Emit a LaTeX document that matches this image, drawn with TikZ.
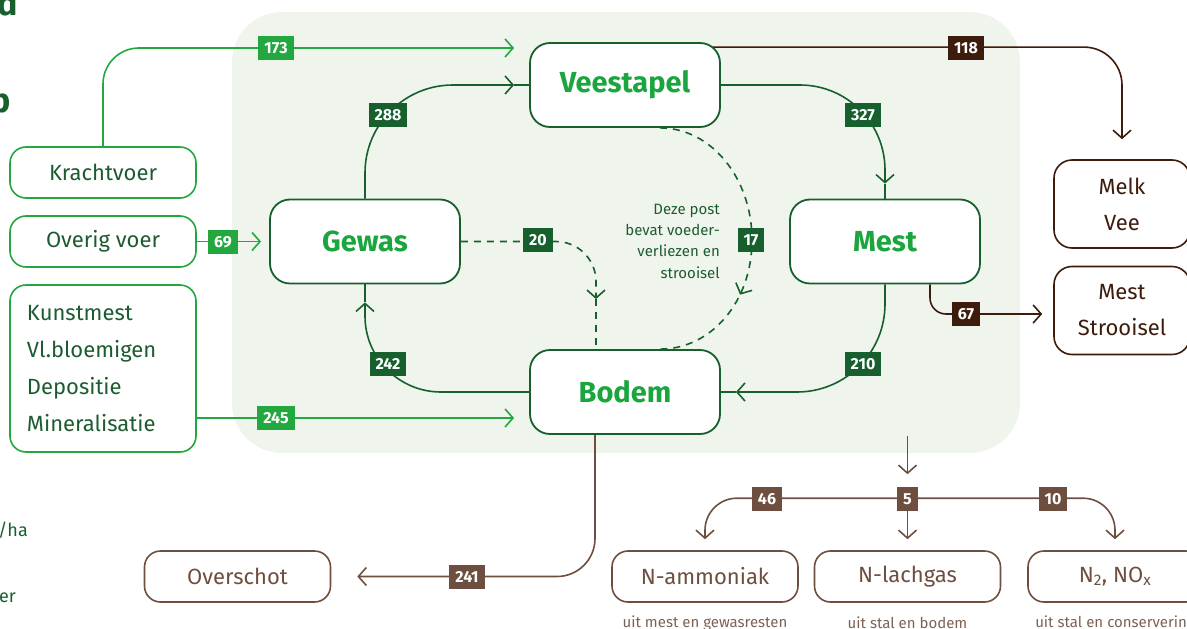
\documentclass[tikz,border=0pt]{standalone}
\usepackage{fontspec}
\setmainfont{Fira Sans}
\usetikzlibrary{arrows.meta,calc,decorations.markings}
\definecolor{bgcol}{HTML}{EFF5EC}
\definecolor{ltgreen}{HTML}{22A83F}
\definecolor{dkgreen}{HTML}{17602E}
\definecolor{brgreen}{HTML}{1BA53E}
\definecolor{txgreen}{HTML}{1D5C31}
\definecolor{dkbrown}{HTML}{3E1C0C}
\definecolor{mdbrown}{HTML}{6E4F3F}
\definecolor{capbrown}{HTML}{7D6154}
\pgfdeclarelayer{back}
\pgfdeclarelayer{lines}
\pgfsetlayers{back,lines,main}
\begin{document}
\begin{tikzpicture}[x=1pt,y=-1pt,
  lnk/.style={line width=1.6pt,-{Straight Barb[length=8pt,width=18pt]}},
  plain/.style={line width=1.6pt},
  dsh/.style={dash pattern=on 7pt off 6pt},
  mainbox/.style={draw=dkgreen,line width=1.8pt,fill=white,rounded corners=20pt,
    minimum width=190pt,minimum height=84pt,text=brgreen,
    font=\fontsize{29}{34}\selectfont\bfseries},
  inbox/.style={draw=ltgreen,line width=1.6pt,fill=white,rounded corners=16pt,
    minimum width=186pt,minimum height=51pt,text=txgreen,
    font=\fontsize{22}{26}\selectfont},
  outbox/.style={draw=dkbrown,line width=1.6pt,fill=white,rounded corners=18pt,
    minimum width=136pt,minimum height=88pt,text=dkbrown,align=center,
    font=\fontsize{22}{36}\selectfont},
  lossbox/.style={draw=mdbrown,line width=1.6pt,fill=white,rounded corners=16pt,
    minimum width=186pt,minimum height=51pt,text=mdbrown,
    font=\fontsize{22}{26}\selectfont},
  capt/.style={text=capbrown,font=\fontsize{15}{15}\selectfont,inner sep=0pt},
  frag/.style={text=dkgreen,inner sep=0pt,anchor=base east},
  badge/.style={fill=#1,text=white,font=\fontsize{16}{16}\selectfont\bfseries,
    inner xsep=6pt,inner ysep=0pt,minimum height=24pt}
]
\useasboundingbox (0,0) rectangle (1187,629);
\begin{pgfonlayer}{back}
\fill[bgcol,rounded corners=50pt] (232,12) rectangle (1020,453);
\end{pgfonlayer}

% fragments of cropped text
\node[frag,font=\fontsize{34}{34}\selectfont\bfseries] (fr1) at (18,16) {d};
\node[frag,font=\fontsize{34}{34}\selectfont\bfseries] (fr2) at (11,112) {p};
\node[frag,font=\fontsize{18}{18}\selectfont] (fr3) at (28,536) {/ha};
\node[frag,font=\fontsize{18}{18}\selectfont] (fr4) at (16,602) {ter};

% main nodes
\node[mainbox] (vee) at (625,85) {Veestapel};
\node[mainbox] (gewas) at (365,241.5) {Gewas};
\node[mainbox] (mest) at (885,241.5) {Mest};
\node[mainbox] (bodem) at (625,392) {Bodem};

% inputs
\node[inbox] (kracht) at (103,172.5) {Krachtvoer};
\node[inbox] (overig) at (103,241.5) {Overig voer};
\node[inbox,minimum height=167pt,text width=152pt,align=left,
  font=\fontsize{22}{37}\selectfont] (kunst) at (103,368.5)
  {Kunstmest\\Vl.bloemigen\\Depositie\\Mineralisatie};

% outputs
\node[outbox] (melk) at (1122,204) {Melk\\Vee};
\node[outbox] (strooi) at (1122,310.5) {Mest\\Strooisel};
\node[lossbox] (oversch) at (237.5,576.5) {Overschot};
\node[lossbox] (amm) at (705,576.5) {N-ammoniak};
\node[lossbox] (lach) at (907.5,576.5) {N-lachgas};
\node[lossbox,minimum width=174pt] (nox) at (1115,576.5) {N\textsubscript{2}, NO\textsubscript{x}};
\node[capt] (cap1) at (705,623) {uit mest en gewasresten};
\node[capt] (cap2) at (907.5,623) {uit stal en bodem};
\node[capt] (cap3) at (1115,623) {uit stal en conservering};

% note
\node[anchor=east,align=right,text=txgreen,font=\fontsize{15}{21.3}\selectfont,
  inner sep=0pt] (note) at (720,241) {Deze post\\bevat voeder-\\verliezen en\\strooisel};

% coordinates
\coordinate (t173) at ($(vee.west)+(-15,-37)$);
\coordinate (t288) at ($(vee.west)+(-15,0)$);
\coordinate (t327) at ($(mest.north)+(0,-15)$);
\coordinate (t210) at ($(bodem.east)+(15,0)$);
\coordinate (t242) at ($(gewas.south)+(0,18)$);
\coordinate (t20) at ($(bodem.north)+(-29,-50)$);
\coordinate (e20) at ($(bodem.north)+(-29,0)$);
\coordinate (lossA) at ($(lach.north)+(0,-114)$);
\coordinate (lossB) at ($(lach.north)+(0,-76)$);
\coordinate (split) at ($(lach.north)+(0,-52)$);

\begin{pgfonlayer}{lines}
% inputs
\draw[ltgreen,lnk,rounded corners=36pt] (kracht.north) |- (t173);
\draw[ltgreen,lnk] (overig.east) -- ($(gewas.west)+(-8,0)$);
\draw[ltgreen,lnk] ($(kunst.east)+(0,49.5)$) -- ($(bodem.west)+(-15,26)$);
% cycle
\draw[dkgreen,lnk,rounded corners=88pt] (gewas.north) |- (t288);
\draw[dkgreen,plain] (t288) -- (vee.west);
\draw[dkgreen,lnk,rounded corners=85pt] (vee.east) -| (t327);
\draw[dkgreen,plain] (t327) -- (mest.north);
\draw[dkgreen,lnk,rounded corners=88pt] (mest.south) |- (t210);
\draw[dkgreen,plain] (t210) -- (bodem.east);
\draw[dkgreen,lnk,rounded corners=76pt] (bodem.west) -| (t242);
\draw[dkgreen,plain] (t242) -- (gewas.south);
% dashed
\draw[dkgreen,lnk,dsh,rounded corners=40pt] (gewas.east) -| (t20);
\draw[dkgreen,plain,dsh] (t20) -- (e20);
\draw[dkgreen,plain,dsh,
  decoration={markings,mark=at position 0.68 with {\arrow{Straight Barb[length=8pt,width=18pt]}}},
  postaction={decorate}]
  ($(vee.south)+(35,0)$) .. controls ($(vee.south)+(86,0)$) and (752,178) .. (752,240)
  .. controls (752,302) and ($(bodem.north)+(86,0)$) .. ($(bodem.north)+(35,0)$);
% outputs
\draw[dkbrown,lnk,rounded corners=38pt] ($(vee.north east)+(-10,5)$) -| ($(melk.north)+(0,-20)$);
\draw[dkbrown,lnk,rounded corners=16pt] ($(mest.south)+(45,0)$) |- ($(strooi.west)+(-11,3.5)$);
\draw[mdbrown,lnk,rounded corners=38pt] ($(bodem.south)+(-30,0)$) |- ($(oversch.east)+(26,0)$);
\draw[mdbrown,lnk] (lossA) -- (lossB);
\draw[mdbrown,lnk,rounded corners=32pt] (split) -| ($(amm.north)+(0,-11)$);
\draw[mdbrown,lnk,rounded corners=32pt] (split) -| ($(nox.north)+(0,-11)$);
\draw[mdbrown,lnk] (split) -- ($(lach.north)+(0,-11)$);
\end{pgfonlayer}

% badges
\node[badge=ltgreen] (b173) at (276,48) {173};
\node[badge=ltgreen] (b69) at (223,242) {69};
\node[badge=ltgreen] (b245) at (276,418) {245};
\node[badge=dkgreen] (b288) at (388,115) {288};
\node[badge=dkgreen] (b327) at (863,115) {327};
\node[badge=dkgreen] (b210) at (863,364) {210};
\node[badge=dkgreen] (b242) at (388,364) {242};
\node[badge=dkgreen] (b20) at (538,240) {20};
\node[badge=dkgreen] (b17) at (751,240) {17};
\node[badge=dkbrown] (b118) at (966,48) {118};
\node[badge=dkbrown] (b67) at (966,314) {67};
\node[badge=mdbrown] (b241) at (467,576.5) {241};
\node[badge=mdbrown] (b46) at (767,499) {46};
\node[badge=mdbrown] (b5) at (907.5,499) {5};
\node[badge=mdbrown] (b10) at (1053,499) {10};
\end{tikzpicture}
\end{document}
